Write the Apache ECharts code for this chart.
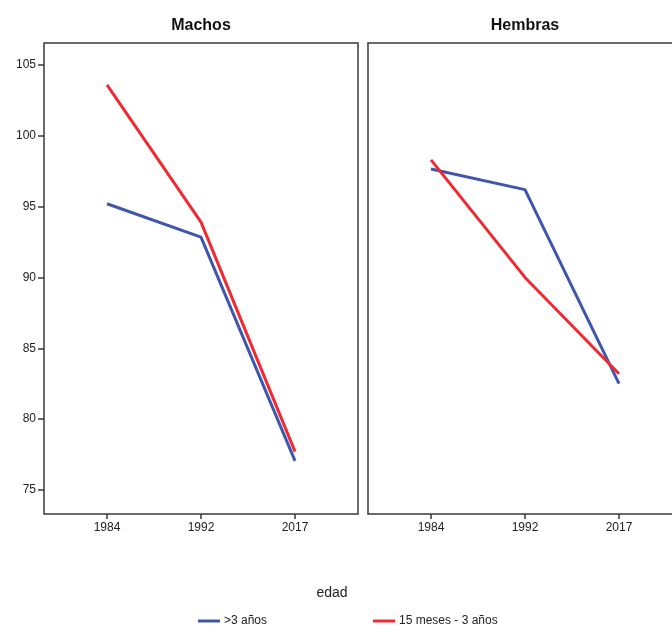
<!DOCTYPE html>
<html><head><meta charset="utf-8">
<script src="https://cdn.jsdelivr.net/npm/echarts@6/dist/echarts.min.js"></script>
<style>html,body{margin:0;padding:0;background:#fff}#c{width:672px;height:626px}</style>
</head><body><div id="c"></div>
<script>
const years = ['1984', '1992', '2017'];
const panels = ['Machos', 'Hembras'];
const seriesNames = ['>3 años', '15 meses - 3 años'];
const machosAdult = [95.2, 92.85, 77.05];
const machosYoung = [103.6, 93.9, 77.7];
const hembrasAdult = [97.65, 96.2, 82.5];
const hembrasYoung = [98.3, 90.0, 83.2];
const yTicks = [75, 80, 85, 90, 95, 100, 105];

const FONT = '"Liberation Sans Narrow", "Liberation Sans", Arial, sans-serif';
const BLUE = '#3f56ab';
const RED = '#ee2b33';
const AX = '#3a3a3a';

const chart = echarts.init(document.getElementById('c'));
const pts = arr => arr.map((v, i) => [i, v]);

function xAxis(gi, max, showLine) {
  return {
    type: 'value', gridIndex: gi, min: -0.67, max: max, interval: 1,
    axisLine: { show: showLine, onZero: false, lineStyle: { color: AX, width: 1.5 } },
    axisTick: { show: true, length: 5, lineStyle: { color: AX, width: 1.5 }, customValues: [0, 1, 2] },
    axisLabel: { show: true, color: '#222', fontFamily: FONT, fontSize: 12, margin: 8,
      customValues: [0, 1, 2], formatter: v => years[Math.round(v)] },
    splitLine: { show: false }
  };
}
function yAxis(gi, showLabels, showLine) {
  return {
    type: 'value', gridIndex: gi, min: 73.3, max: 106.55,
    axisLine: { show: showLine, onZero: false, lineStyle: { color: AX, width: 1.5 } },
    axisTick: { show: showLabels, length: 6, lineStyle: { color: AX, width: 1.5 }, customValues: yTicks },
    axisLabel: { show: showLabels, color: '#222', fontFamily: FONT, fontSize: 12, margin: 8,
      customValues: yTicks },
    splitLine: { show: false }
  };
}
function line(name, color, gi, data) {
  return { type: 'line', name, xAxisIndex: gi, yAxisIndex: gi, data: pts(data),
    symbol: 'none', lineStyle: { color, width: 3 }, itemStyle: { color }, z: 3 };
}

chart.setOption({
  animation: false,
  backgroundColor: '#fff',
  title: [
    { text: panels[0], left: 196, top: 13, textAlign: 'center',
      textStyle: { fontFamily: FONT, fontSize: 16, fontWeight: 'bold', color: '#111' } },
    { text: panels[1], left: 520, top: 13, textAlign: 'center',
      textStyle: { fontFamily: FONT, fontSize: 16, fontWeight: 'bold', color: '#111' } },
    { text: 'edad', left: 327, top: 581, textAlign: 'center',
      textStyle: { fontFamily: FONT, fontSize: 14, fontWeight: 'normal', color: '#222' } }
  ],
  grid: [
    { left: 44, top: 43, width: 314, height: 471, show: true, borderColor: AX, borderWidth: 1.5, backgroundColor: 'transparent' },
    { left: 368, top: 43, width: 304, height: 471, show: false }
  ],
  xAxis: [
    xAxis(0, 2.67, false),
    xAxis(1, 2.564, true),
    { type: 'value', gridIndex: 1, position: 'top', min: 0, max: 1,
      axisLine: { show: true, onZero: false, lineStyle: { color: AX, width: 1.5 } },
      axisTick: { show: false }, axisLabel: { show: false }, splitLine: { show: false } }
  ],
  yAxis: [yAxis(0, true, false), yAxis(1, false, true)],
  legend: [
    { data: [seriesNames[0]], left: 193, top: 610, icon: 'rect', itemWidth: 22, itemHeight: 3, itemGap: 5,
      textStyle: { fontFamily: FONT, fontSize: 12, color: '#222', padding: [0, 0, 0, -1] } },
    { data: [seriesNames[1]], left: 368, top: 610, icon: 'rect', itemWidth: 22, itemHeight: 3, itemGap: 5,
      textStyle: { fontFamily: FONT, fontSize: 12, color: '#222', padding: [0, 0, 0, -1] } }
  ],
  series: [
    line(seriesNames[0], BLUE, 0, machosAdult),
    line(seriesNames[1], RED, 0, machosYoung),
    line(seriesNames[0], BLUE, 1, hembrasAdult),
    line(seriesNames[1], RED, 1, hembrasYoung)
  ]
});
</script></body></html>
